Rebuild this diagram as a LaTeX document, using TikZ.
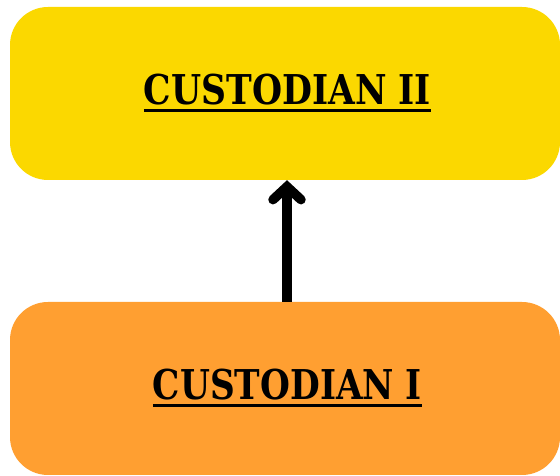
\documentclass[tikz,border=0pt]{standalone}
\usepackage{fontspec}
\setmainfont{DejaVu Serif}
\usetikzlibrary{arrows.meta,positioning}
\definecolor{custyellow}{HTML}{FBD800}
\definecolor{custorange}{HTML}{FF9F31}
\newcommand{\heavyul}[3]{\setbox0\hbox{\resizebox{#2}{#3}{\bfseries #1}}\vtop{\copy0\kern4pt\hrule height 3pt width \wd0}}
\tikzset{custbox/.style={rounded corners=38pt,minimum width=550pt,minimum height=173pt,inner sep=0pt,font=\bfseries}}
\begin{document}
        \begin{tikzpicture}[x=1pt,y=1pt]
          \useasboundingbox (0,0) rectangle (560,476);
          \node[custbox,fill=custyellow] (upper) at (285,382.5) {\hspace{5pt}\raisebox{8pt}{\heavyul{CUSTODIAN II}{287pt}{30.5pt}}};
          \node[custbox,fill=custorange] (lower) at (285,87.5) {\hspace{5pt}\raisebox{8pt}{\heavyul{CUSTODIAN I}{269pt}{30.5pt}}};
          \draw[line width=9.5pt,-{Straight Barb[length=13pt,width=28pt,line cap=round]}]
            ([xshift=2pt]lower.north) -- ([xshift=2pt]upper.south);
        \end{tikzpicture}
\end{document}
